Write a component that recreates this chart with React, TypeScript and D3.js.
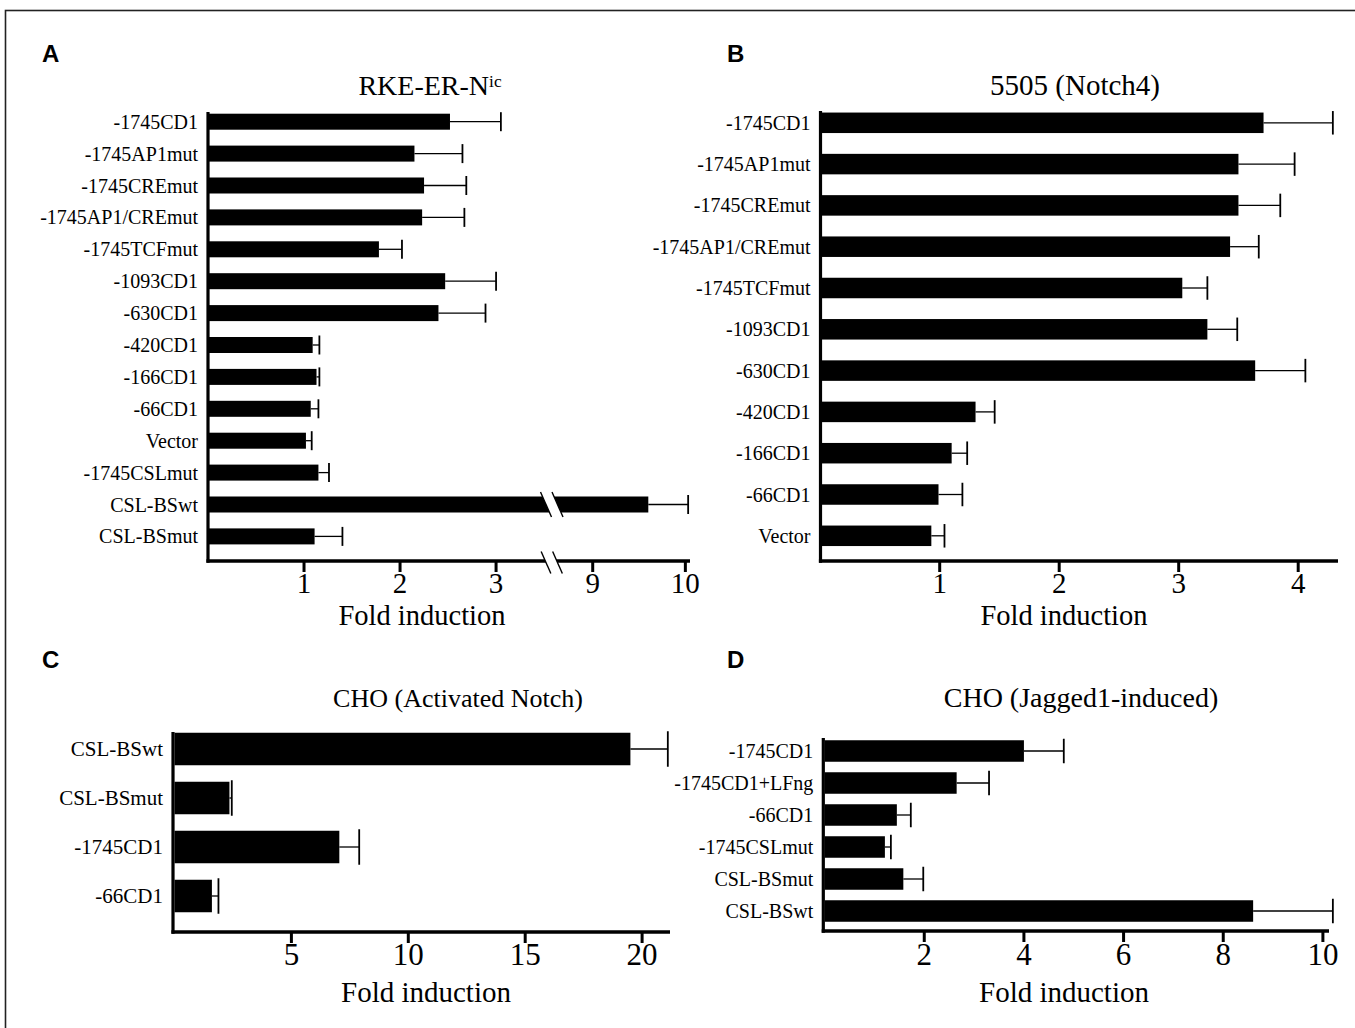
import React from "react";
import * as d3 from "d3";

// ---- data ----
const catA = ["-1745CD1", "-1745AP1mut", "-1745CREmut", "-1745AP1/CREmut", "-1745TCFmut", "-1093CD1", "-630CD1", "-420CD1", "-166CD1", "-66CD1", "Vector", "-1745CSLmut", "CSL-BSwt", "CSL-BSmut"];
const valA = [2.52, 2.15, 2.25, 2.23, 1.78, 2.47, 2.4, 1.09, 1.13, 1.07, 1.02, 1.15, 9.6, 1.11];
const errA = [0.53, 0.5, 0.44, 0.44, 0.24, 0.53, 0.49, 0.07, 0.03, 0.08, 0.06, 0.11, 0.43, 0.29];
const ticksA = [1, 2, 3, 9, 10];

const catB = ["-1745CD1", "-1745AP1mut", "-1745CREmut", "-1745AP1/CREmut", "-1745TCFmut", "-1093CD1", "-630CD1", "-420CD1", "-166CD1", "-66CD1", "Vector"];
const valB = [3.71, 3.5, 3.5, 3.43, 3.03, 3.24, 3.64, 1.3, 1.1, 0.99, 0.93];
const errB = [0.58, 0.47, 0.35, 0.24, 0.21, 0.25, 0.42, 0.16, 0.13, 0.2, 0.11];
const ticksB = [1, 2, 3, 4];

const catC = ["CSL-BSwt", "CSL-BSmut", "-1745CD1", "-66CD1"];
const valC = [19.5, 2.35, 7.05, 1.6];
const errC = [1.6, 0.1, 0.85, 0.28];
const ticksC = [5, 10, 15, 20];

const catD = ["-1745CD1", "-1745CD1+LFng", "-66CD1", "-1745CSLmut", "CSL-BSmut", "CSL-BSwt"];
const valD = [4.0, 2.65, 1.45, 1.21, 1.58, 8.6];
const errD = [0.8, 0.65, 0.28, 0.12, 0.4, 1.6];
const ticksD = [2, 4, 6, 8, 10];

const SERIF = "'Liberation Serif', 'DejaVu Serif', serif";
const SANS = "'Liberation Sans Narrow', 'Liberation Sans', Arial, sans-serif";

// break in panel A's axis between 3.52 and 8.62
const breakLo = 3.52;
const breakHi = 8.62;

const panels = [
  {
    letter: "A", lx: 42, ly: 62,
    cats: catA, vals: valA, errs: errA, ticks: ticksA,
    x: d3.scaleLinear().domain([0, breakLo, breakHi, 10.05]).range([208, 546, 557.5, 690]),
    axisX: 208, axisY: 561, axisEnd: 690, yTop: 112,
    c0: 121.7, pitch: 31.9, barH: 16, labelSize: 20,
    title: "RKE-ER-N", sup: "ic", tx: 430, ty: 95, tsize: 28,
    tickY: 593, tickSize: 29, foldX: 422, foldY: 625, foldSize: 28.5, hasBreak: true,
  },
  {
    letter: "B", lx: 727, ly: 62,
    cats: catB, vals: valB, errs: errB, ticks: ticksB,
    x: d3.scaleLinear().domain([0, 4.3]).range([820.2, 820.2 + 4.3 * 119.5]),
    axisX: 820.5, axisY: 561, axisEnd: 1338, yTop: 111,
    c0: 122.8, pitch: 41.3, barH: 20.5, labelSize: 20,
    title: "5505 (Notch4)", sup: "", tx: 1075, ty: 95, tsize: 29,
    tickY: 593, tickSize: 29, foldX: 1064, foldY: 625, foldSize: 28.5, hasBreak: false,
  },
  {
    letter: "C", lx: 42, ly: 668,
    cats: catC, vals: valC, errs: errC, ticks: ticksC,
    x: d3.scaleLinear().domain([0, 21]).range([174.5, 174.5 + 21 * 23.38]),
    axisX: 173, axisY: 932, axisEnd: 670, yTop: 732,
    c0: 749, pitch: 49, barH: 32.5, labelSize: 21,
    title: "CHO (Activated Notch)", sup: "", tx: 458, ty: 707, tsize: 26,
    tickY: 965, tickSize: 31, foldX: 426, foldY: 1002, foldSize: 29, hasBreak: false,
  },
  {
    letter: "D", lx: 727, ly: 668,
    cats: catD, vals: valD, errs: errD, ticks: ticksD,
    x: d3.scaleLinear().domain([0, 10]).range([824.6, 824.6 + 10 * 49.83]),
    axisX: 823.3, axisY: 931, axisEnd: 1329, yTop: 738,
    c0: 751, pitch: 32, barH: 21.5, labelSize: 20,
    title: "CHO (Jagged1-induced)", sup: "", tx: 1081, ty: 707, tsize: 28,
    tickY: 965, tickSize: 31, foldX: 1064, foldY: 1002, foldSize: 29, hasBreak: false,
  },
];

type P = (typeof panels)[number];

const SLOPE = 0.44; // dx per dy of the break slashes

function BreakMark({ x1, x2, cy, hh }: { x1: number; x2: number; cy: number; hh: number }) {
  const pts = [
    [x1 - SLOPE * hh, cy - hh],
    [x2 - SLOPE * hh, cy - hh],
    [x2 + SLOPE * hh, cy + hh],
    [x1 + SLOPE * hh, cy + hh],
  ];
  return (
    <g>
      <polygon points={pts.map((p) => p.join(",")).join(" ")} fill="#fff" />
      <line x1={x1 - SLOPE * hh} y1={cy - hh} x2={x1 + SLOPE * hh} y2={cy + hh} stroke="#000" strokeWidth={1.4} />
      <line x1={x2 - SLOPE * hh} y1={cy - hh} x2={x2 + SLOPE * hh} y2={cy + hh} stroke="#000" strokeWidth={1.4} />
    </g>
  );
}

function Panel({ p }: { p: P }) {
  const n = p.cats.length;
  const inner = 1 - p.barH / p.pitch;
  const y = d3
    .scaleBand<string>()
    .domain(p.cats)
    .range([p.c0 - p.pitch / 2, p.c0 - p.pitch / 2 + n * p.pitch])
    .paddingInner(inner)
    .paddingOuter(inner / 2);
  const bw = y.bandwidth();
  const x = p.x;
  const bx1 = x(breakLo);
  const bx2 = x(breakHi);
  const sw = 3.5;

  return (
    <g>
      <text x={p.lx} y={p.ly} fontFamily={SANS} fontWeight="bold" fontSize={24} fill="#000">
        {p.letter}
      </text>
      <text x={p.tx} y={p.ty} textAnchor="middle" fontFamily={SERIF} fontSize={p.tsize} fill="#000">
        {p.title}
        {p.sup && (
          <tspan fontSize={p.tsize * 0.62} dy={-p.tsize * 0.3}>
            {p.sup}
          </tspan>
        )}
      </text>

      {p.cats.map((c, i) => {
        const y0 = y(c) as number;
        const cy = y0 + bw / 2;
        const v = p.vals[i];
        const e = v + p.errs[i];
        const broken = p.hasBreak && v > breakHi;
        return (
          <g key={c + i}>
            <text x={p.axisX - 10} y={cy} dy="0.35em" textAnchor="end" fontFamily={SERIF} fontSize={p.labelSize} fill="#000">
              {c}
            </text>
            <rect x={x(0)} y={y0} width={x(v) - x(0)} height={bw} fill="#000" />
            <line x1={x(v)} x2={x(e)} y1={cy} y2={cy} stroke="#000" strokeWidth={1.3} />
            <line x1={x(e)} x2={x(e)} y1={cy - bw / 2 - 1.5} y2={cy + bw / 2 + 1.5} stroke="#000" strokeWidth={1.8} />
            {broken && <BreakMark x1={bx1} x2={bx2} cy={cy} hh={bw / 2 + 4.5} />}
          </g>
        );
      })}

      {/* axes */}
      <line x1={p.axisX} x2={p.axisX} y1={p.yTop} y2={p.axisY + sw / 2} stroke="#000" strokeWidth={3.2} />
      <line x1={p.axisX - 1.6} x2={p.axisEnd} y1={p.axisY} y2={p.axisY} stroke="#000" strokeWidth={sw} />
      {p.hasBreak && <BreakMark x1={bx1} x2={bx2} cy={p.axisY + 1.5} hh={11} />}
      {p.ticks.map((t) => (
        <g key={t}>
          <line x1={x(t)} x2={x(t)} y1={p.axisY} y2={p.axisY + 11} stroke="#000" strokeWidth={3} />
          <text x={x(t)} y={p.tickY} textAnchor="middle" fontFamily={SERIF} fontSize={p.tickSize} fill="#000">
            {t}
          </text>
        </g>
      ))}
      <text x={p.foldX} y={p.foldY} textAnchor="middle" fontFamily={SERIF} fontSize={p.foldSize} fill="#000">
        Fold induction
      </text>
    </g>
  );
}

export default function App() {
  return (
    <svg
      width={1355}
      height={1028}
      viewBox="0 0 1355 1028"
      style={{ position: "absolute", left: 0, top: 0, display: "block", background: "#fff" }}
    >
      <rect x={0} y={0} width={1355} height={1028} fill="#fff" />
      <rect x={5.5} y={10.5} width={1365} height={1040} fill="none" stroke="#222" strokeWidth={1.6} />
      {panels.map((p) => (
        <Panel key={p.letter} p={p} />
      ))}
    </svg>
  );
}
